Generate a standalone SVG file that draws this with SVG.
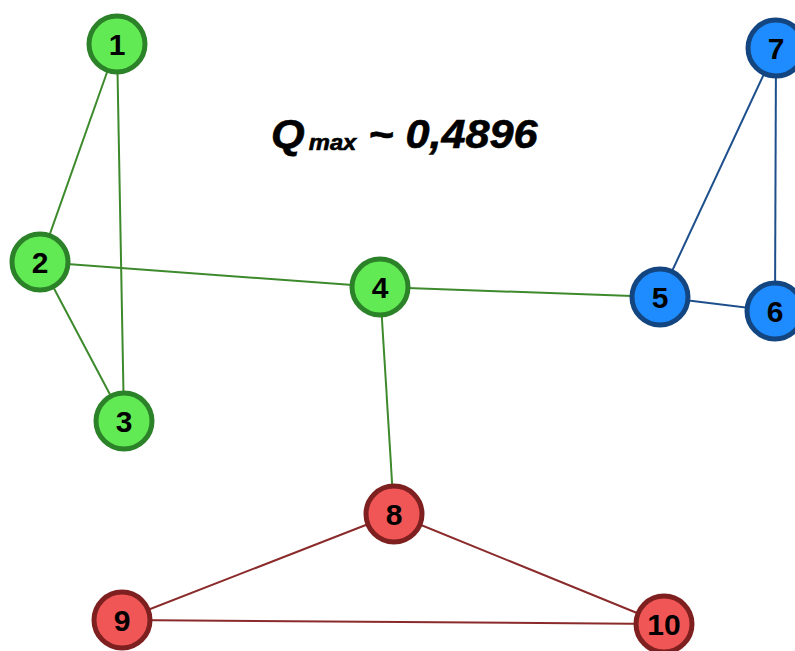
<svg xmlns="http://www.w3.org/2000/svg" width="795" height="651" viewBox="0 0 795 651">
  <style>
    .edge { stroke-width: 2; fill: none; }
    .e-green { stroke: #3d8a2c; }
    .e-blue { stroke: #1d4f8c; }
    .e-red { stroke: #8a2a2a; }
    .node circle { stroke-width: 5; }
    .green circle { fill: #62ea55; stroke: #2c8228; }
    .blue circle { fill: #1e8cff; stroke: #134680; }
    .red circle { fill: #f05656; stroke: #7e2020; }
    .node text { font-family: "Liberation Sans", Arial, sans-serif; font-weight: bold; font-size: 30px; fill: #000; text-anchor: middle; }
    .title { font-family: "Liberation Sans", Arial, sans-serif; font-weight: bold; font-style: italic; fill: #000; stroke: #000; stroke-width: 0.6; }
  </style>
  <rect width="795" height="651" fill="#ffffff"/>

  <g id="connectors">
    <line class="edge e-green" x1="117" y1="44" x2="40" y2="262"/>
    <line class="edge e-green" x1="117" y1="44" x2="124" y2="421"/>
    <line class="edge e-green" x1="40" y1="262" x2="124" y2="421"/>
    <line class="edge e-green" x1="40" y1="262" x2="380" y2="287"/>
    <line class="edge e-green" x1="380" y1="287" x2="660" y2="297"/>
    <line class="edge e-green" x1="380" y1="287" x2="394" y2="514"/>
    <line class="edge e-blue" x1="660" y1="297" x2="776" y2="48"/>
    <line class="edge e-blue" x1="660" y1="297" x2="775" y2="311"/>
    <line class="edge e-blue" x1="776" y1="48" x2="775" y2="311"/>
    <line class="edge e-red" x1="394" y1="514" x2="122" y2="620"/>
    <line class="edge e-red" x1="394" y1="514" x2="664" y2="624"/>
    <line class="edge e-red" x1="122" y1="620" x2="664" y2="624"/>
  </g>

  <g id="node1" class="node green"><circle cx="117" cy="44" r="28"/><text x="117" y="55">1</text></g>
  <g id="node2" class="node green"><circle cx="40" cy="262" r="28"/><text x="40" y="273">2</text></g>
  <g id="node3" class="node green"><circle cx="124" cy="421" r="28"/><text x="124" y="432">3</text></g>
  <g id="node4" class="node green"><circle cx="380" cy="287" r="28"/><text x="380" y="298">4</text></g>
  <g id="node5" class="node blue"><circle cx="660" cy="297" r="28"/><text x="660" y="308">5</text></g>
  <g id="node6" class="node blue"><circle cx="775" cy="311" r="28"/><text x="775" y="322">6</text></g>
  <g id="node7" class="node blue"><circle cx="776" cy="48" r="28"/><text x="776" y="59">7</text></g>
  <g id="node8" class="node red"><circle cx="394" cy="514" r="28"/><text x="394" y="525">8</text></g>
  <g id="node9" class="node red"><circle cx="122" cy="620" r="28"/><text x="122" y="631">9</text></g>
  <g id="node10" class="node red"><circle cx="664" cy="624" r="28"/><text x="664" y="635">10</text></g>

  <g id="title" transform="translate(271 148) scale(1.08 1)">
    <text class="title" x="0" y="0" font-size="40">Q</text>
    <text class="title" x="35" y="2" font-size="22">max</text>
    <text class="title" x="90" y="0" font-size="40">~ 0,4896</text>
  </g>
</svg>
